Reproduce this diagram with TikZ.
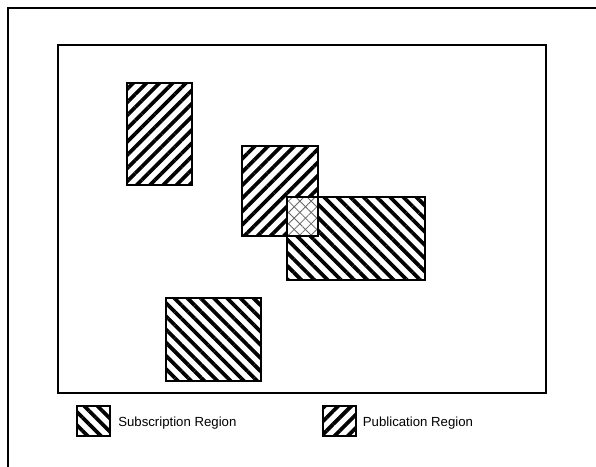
\documentclass[tikz,border=0pt]{standalone}
\usepackage{fontspec}
\setmainfont{Liberation Sans}
\usetikzlibrary{patterns.meta,fit,positioning}

\begin{document}
\begin{tikzpicture}[x=.75pt,y=-.75pt,font=\fontsize{9.9}{12}\selectfont,
 region/.style={draw,line width=1.5pt,inner sep=0pt,outer sep=0pt},
 pubregion/.style={region,pattern={Lines[angle=45,distance=7pt,line width=2.8pt]}},
 subregion/.style={region,pattern={Lines[angle=-45,distance=7pt,line width=2.8pt]}},
 legendtext/.style={inner sep=0pt,yshift=-1.5pt}]
\useasboundingbox (0,0) rectangle (596,467);
\draw[line width=1.5pt] (8,467) |- (596,8);
\node[draw,line width=1.9pt,inner sep=0pt,outer sep=0pt,fit={(58,45) (546,393)}] (space) {};
\foreach \nm/\xa/\ya/\xb/\yb in {pubA/127/83/192/185,pubB/242/146/318/236}
 {\node[pubregion,fit={(\xa,\ya) (\xb,\yb)}] (\nm) {};}
\foreach \nm/\xa/\ya/\xb/\yb in {subA/287/197/425/280,subB/166/298/261/381}
 {\node[subregion,fit={(\xa,\ya) (\xb,\yb)}] (\nm) {};}
\fill[white] (subA.north west) rectangle (pubB.south east);
\foreach \ang in {45,-45}
 {\fill[pattern={Lines[angle=\ang,distance=6pt,line width=.6pt]},pattern color=black!60]
   (subA.north west) rectangle (pubB.south east);}
\draw[line width=1.5pt] (pubB.north west) rectangle (pubB.south east)
 (subA.north west) rectangle (subA.south east);
\node[subregion,line width=1.3pt,fit={(77,406) (110,436)}] (subkey) {};
\node[legendtext,right=6pt of subkey] (sublabel) {Subscription Region};
\node[pubregion,line width=1.3pt,fit={(323,406) (356,436)}] (pubkey) {};
\node[legendtext,right=5pt of pubkey] (publabel) {Publication Region};
\end{tikzpicture}
\end{document}
